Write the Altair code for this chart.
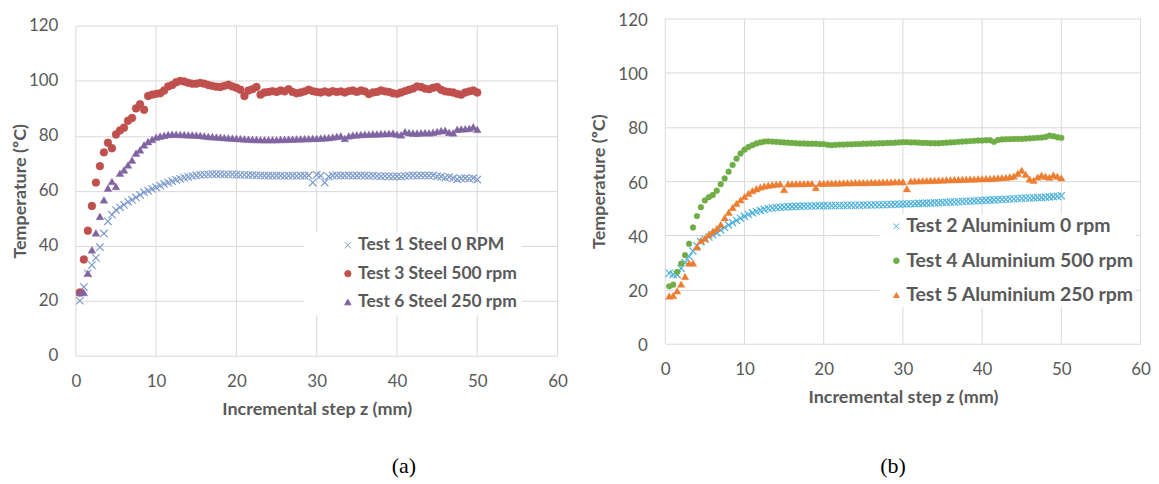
import altair as alt
import pandas as pd

# ---------------- data ----------------
STEP_Z = [
    0.5, 1.0, 1.5, 2.0, 2.5, 3.0, 3.5, 4.0, 4.5, 5.0,
    5.5, 6.0, 6.5, 7.0, 7.5, 8.0, 8.5, 9.0, 9.5, 10.0,
    10.5, 11.0, 11.5, 12.0, 12.5, 13.0, 13.5, 14.0, 14.5, 15.0,
    15.5, 16.0, 16.5, 17.0, 17.5, 18.0, 18.5, 19.0, 19.5, 20.0,
    20.5, 21.0, 21.5, 22.0, 22.5, 23.0, 23.5, 24.0, 24.5, 25.0,
    25.5, 26.0, 26.5, 27.0, 27.5, 28.0, 28.5, 29.0, 29.5, 30.0,
    30.5, 31.0, 31.5, 32.0, 32.5, 33.0, 33.5, 34.0, 34.5, 35.0,
    35.5, 36.0, 36.5, 37.0, 37.5, 38.0, 38.5, 39.0, 39.5, 40.0,
    40.5, 41.0, 41.5, 42.0, 42.5, 43.0, 43.5, 44.0, 44.5, 45.0,
    45.5, 46.0, 46.5, 47.0, 47.5, 48.0, 48.5, 49.0, 49.5, 50.0,
]

TEST1_STEEL_0 = [
    20, 25, 30, 33, 35.6, 39.5, 44.5, 48.9, 51.3, 53,
    54, 54.9, 56, 56.7, 57.6, 58.5, 59.5, 60, 60.7, 61.3,
    61.9, 62.5, 63, 63.5, 64, 64.4, 64.8, 65.1, 65.4, 65.6,
    65.8, 65.9, 66, 66.1, 66.1, 66.1, 66, 66, 66, 65.9,
    65.8, 65.8, 65.7, 65.7, 65.6, 65.6, 65.5, 65.5, 65.5, 65.5,
    65.5, 65.4, 65.5, 65.5, 65.4, 65.5, 65.5, 65.6, 63, 65.8,
    65.5, 63, 65.2, 65.5, 65.6, 65.5, 65.5, 65.6, 65.5, 65.5,
    65.6, 65.5, 65.4, 65.5, 65.4, 65.3, 65.4, 65.3, 65.2, 65.3,
    65.2, 65.4, 65.5, 65.6, 65.5, 65.6, 65.6, 65.5, 65.6, 65.3,
    65.2, 64.8, 65, 64.6, 64.2, 64.5, 64.6, 64.4, 64.6, 64.1,
]
TEST3_STEEL_500 = [
    23, 35, 45.5, 54.5, 63, 69, 74, 77.5, 75.5, 80.5,
    82, 83, 85.5, 86.5, 90, 91.5, 89.5, 94.5, 95, 95.3,
    95.5, 96.5, 98, 98.5, 99.5, 100, 99.8, 99.3, 99, 99,
    99.3, 99, 98.5, 98.2, 97.9, 97.8, 98.2, 98.6, 98, 97.5,
    96.8, 94.5, 96.5, 97, 97.8, 95, 95.8, 96, 96.3, 96,
    96.5, 96.2, 97, 96, 95.5, 95.8, 96.2, 96.8, 96.3, 96,
    95.8, 96.2, 95.8, 96.3, 96, 96.2, 95.8, 96.3, 96.5, 96,
    96.5, 96.2, 95.2, 95.8, 96, 96.5, 96.2, 96, 95.5, 95.3,
    95.8, 96.3, 96.8, 97.2, 98, 97.8, 97.2, 97, 97.5, 97.8,
    96.8, 96.2, 96, 95.8, 95.3, 95, 95.8, 96.2, 96.5, 95.8,
]
TEST6_STEEL_250 = [
    23, 23, 30, 38.5, 44.7, 50.7, 56.7, 61, 63.4, 61.6,
    66.4, 67.6, 69.4, 71.2, 73.7, 74.9, 76.7, 77.9, 78.7, 79.5,
    79.9, 80.2, 80.5, 80.6, 80.6, 80.5, 80.5, 80.4, 80.4, 80.3,
    80.2, 80.0, 79.8, 79.7, 79.6, 79.5, 79.4, 79.3, 79.2, 79.1,
    79.0, 78.9, 78.8, 78.7, 78.7, 78.6, 78.6, 78.6, 78.6, 78.6,
    78.7, 78.7, 78.8, 78.8, 78.9, 78.9, 79.0, 79.0, 79.1, 79.1,
    79.2, 79.3, 79.4, 79.6, 79.8, 80.0, 79.1, 80.0, 80.3, 80.4,
    80.5, 80.6, 80.6, 80.7, 80.7, 80.8, 80.8, 80.9, 81.0, 80.6,
    80.4, 81.5, 81.2, 81.0, 81.0, 81.1, 81.2, 81.1, 81.3, 81.6,
    81.9, 82.0, 81.3, 81.1, 82.4, 82.5, 82.6, 82.7, 83.3, 82.4,
]

TEST2_AL_0 = [
    26, 25.6, 25.5, 27.8, 30, 32.2, 34.2, 36.2, 37.6, 38.6,
    39.4, 40.2, 41, 42, 42.9, 43.8, 44.7, 45.5, 46.3, 47,
    47.7, 48.3, 48.8, 49.2, 49.6, 49.9, 50.1, 50.3, 50.4, 50.5,
    50.6, 50.6, 50.7, 50.7, 50.8, 50.8, 50.8, 50.9, 50.9, 50.9,
    50.9, 51.0, 51.0, 51.0, 51.0, 51.1, 51.1, 51.1, 51.1, 51.2,
    51.2, 51.2, 51.3, 51.3, 51.3, 51.4, 51.4, 51.5, 51.5, 51.6,
    51.6, 51.7, 51.7, 51.8, 51.8, 51.9, 51.9, 52.0, 52.0, 52.1,
    52.2, 52.3, 52.3, 52.4, 52.5, 52.6, 52.6, 52.7, 52.8, 52.9,
    53.0, 53.0, 53.1, 53.2, 53.2, 53.3, 53.4, 53.5, 53.6, 53.7,
    53.8, 53.8, 53.9, 54.0, 54.0, 54.1, 54.2, 54.3, 54.4, 54.6,
]
TEST4_AL_500 = [
    21.2, 21.8, 26.5, 29.6, 32.7, 36.9, 42.9, 47.1, 50.4, 52.9,
    54.1, 54.9, 56.5, 58.9, 61, 63.5, 66, 68.3, 70.2, 71.6,
    72.6, 73.3, 73.9, 74.3, 74.6, 74.7, 74.6, 74.5, 74.4, 74.3,
    74.2, 74.1, 74.0, 73.9, 73.9, 73.8, 73.8, 73.8, 73.7, 73.7,
    73.4, 73.3, 73.4, 73.5, 73.5, 73.6, 73.6, 73.7, 73.7, 73.8,
    73.8, 73.9, 73.9, 74.0, 74.0, 74.1, 74.1, 74.2, 74.3, 74.4,
    74.4, 74.3, 74.3, 74.2, 74.1, 74.1, 74.0, 74.0, 74.0, 74.1,
    74.2, 74.3, 74.4, 74.5, 74.6, 74.7, 74.8, 74.9, 75.0, 75.0,
    75.1, 75.1, 74.5, 75.2, 75.4, 75.5, 75.5, 75.6, 75.6, 75.6,
    75.7, 75.8, 75.9, 76.0, 76.1, 76.3, 76.8, 76.6, 76.2, 76.0,
]
TEST5_AL_250 = [
    17.6, 17.8, 19.5, 22, 24.8, 29.8, 29.8, 35.7, 38.1, 38.9,
    40.3, 41.5, 42.5, 44, 46.5, 48.5, 50.3, 51.8, 53.1, 54.3,
    55.5, 56.5, 57.2, 57.8, 58.2, 58.5, 58.7, 58.9, 59.0, 56.9,
    59.0, 59.0, 59.1, 59.1, 59.1, 59.2, 59.2, 57.6, 59.2, 59.2,
    59.3, 59.3, 59.3, 59.3, 59.4, 59.4, 59.4, 59.5, 59.5, 59.5,
    59.5, 59.6, 59.6, 59.6, 59.7, 59.7, 59.7, 59.8, 59.8, 59.8,
    57.2, 60.0, 60.1, 60.1, 60.2, 60.2, 60.3, 60.3, 60.4, 60.4,
    60.5, 60.5, 60.6, 60.6, 60.7, 60.7, 60.8, 60.8, 60.9, 60.9,
    61.0, 61.0, 61.1, 61.2, 61.3, 61.4, 61.6, 61.9, 62.8, 64.0,
    62.5, 60.8, 60.3, 61.5, 62.2, 61.8, 61.4, 62.3, 61.8, 61.2,
]

A_NAMES = ["Test 1 Steel 0 RPM", "Test 3 Steel 500 rpm", "Test 6 Steel 250 rpm"]
B_NAMES = ["Test 2 Aluminium 0 rpm", "Test 4 Aluminium 500 rpm", "Test 5 Aluminium 250 rpm"]
A_COLORS = ["#7d9bcc", "#c0504d", "#8064a2"]
B_COLORS = ["#4bb0dc", "#70ad47", "#ed7d31"]

X_TICKS = [0, 10, 20, 30, 40, 50, 60]
Y_TICKS = [0, 20, 40, 60, 80, 100, 120]

X_TITLE = "Incremental step z (mm)"
Y_TITLE = "Temperature (ºC)"

# ---------------- styling ----------------
FONT = "Lato"
TXT = "#595959"
GRID = "#d9d9d9"
X_PATH = "M-1,-1L1,1M-1,1L1,-1"
SHAPES = [X_PATH, "circle", "triangle-up"]


def panel(names, colors, series, sizes, strokes, width, height, yrange,
          ytitle_x, ytitle_y, ylabel_offset, legend_kw, caption, cap_dx,
          cap_offset):
    frames = []
    for name, vals in zip(names, series):
        frames.append(pd.DataFrame({"z": STEP_Z, "t": vals, "series": name}))

    grid_df = pd.DataFrame({"gx": X_TICKS, "y0": [0] * len(X_TICKS),
                            "y1": [120] * len(X_TICKS)})

    xscale = alt.Scale(domain=[0, 60], nice=False, zero=False)
    yscale = alt.Scale(domain=[0, 120], range=yrange, nice=False, zero=False)
    cscale = alt.Scale(domain=names, range=colors)
    sscale = alt.Scale(domain=names, range=SHAPES)

    xaxis = alt.Axis(
        values=X_TICKS, grid=False, domain=False, ticks=False, tickSize=0,
        labelPadding=26, labelBaseline="middle", labelFlush=False,
        labelFont=FONT, labelFontSize=17, labelColor=TXT,
        title=X_TITLE, titleFont=FONT, titleFontSize=18, titleFontWeight="bold",
        titleColor=TXT, titleY=54, titleBaseline="middle",
    )
    yaxis = alt.Axis(
        values=Y_TICKS, grid=True, gridColor=GRID, gridWidth=1, domain=False,
        ticks=False, tickSize=0, labelPadding=18, labelFlush=False,
        labelOffset=ylabel_offset,
        labelFont=FONT, labelFontSize=17, labelColor=TXT,
        title=Y_TITLE, titleFont=FONT, titleFontSize=18, titleFontWeight="bold",
        titleColor=TXT, titleAngle=270, titleX=ytitle_x,
        titleY=ytitle_y, titleAlign="center", titleBaseline="middle",
    )
    legend = alt.Legend(
        title=None, orient="none", fillColor="white", labelFont=FONT,
        labelFontWeight="bold", labelColor=TXT, symbolStrokeWidth=1,
        labelLimit=400, **legend_kw,
    )

    vgrid = alt.Chart(grid_df).mark_rule(color=GRID, strokeWidth=1).encode(
        x=alt.X("gx:Q", scale=xscale, axis=xaxis),
        y=alt.Y("y0:Q", scale=yscale, axis=yaxis),
        y2="y1:Q",
    )

    layers = [vgrid]
    for df, size, sw in zip(frames, sizes, strokes):
        layers.append(
            alt.Chart(df).mark_point(filled=True, size=size, opacity=1,
                                     strokeWidth=sw).encode(
                x=alt.X("z:Q", scale=xscale, axis=xaxis),
                y=alt.Y("t:Q", scale=yscale, axis=yaxis),
                fill=alt.Fill("series:N", scale=cscale, legend=legend),
                stroke=alt.Stroke("series:N", scale=cscale, legend=legend),
                shape=alt.Shape("series:N", scale=sscale, legend=legend),
            )
        )
    return alt.layer(*layers).properties(
        width=width, height=height,
        title=alt.TitleParams(caption, orient="bottom", anchor="middle",
                              frame="group", font="Liberation Serif",
                              fontSize=22, fontWeight="normal", color="black",
                              dx=cap_dx, offset=cap_offset),
    )


# group origin sits at page y = 3 (top padding -5)
panel_a = panel(
    A_NAMES, A_COLORS, [TEST1_STEEL_0, TEST3_STEEL_500, TEST6_STEEL_250],
    sizes=[55, 62, 60], strokes=[1.2, 0.4, 0.4],
    width=483, height=353, yrange=[353, 22.4],
    ytitle_x=-55, ytitle_y=187.7, ylabel_offset=0,
    legend_kw=dict(legendX=229, legendY=229.5, padding=4,
                   symbolOffset=31, labelOffset=1.5, rowPadding=9.5,
                   labelFontSize=17.5, symbolSize=40),
    caption="(a)", cap_dx=87.5, cap_offset=38,
)
panel_b = panel(
    B_NAMES, B_COLORS, [TEST2_AL_0, TEST4_AL_500, TEST5_AL_250],
    sizes=[52, 34, 55], strokes=[1.2, 0.4, 0.4],
    width=476.5, height=341, yrange=[341, 15],
    ytitle_x=-65.5, ytitle_y=178, ylabel_offset=2,
    legend_kw=dict(legendX=215, legendY=211.5, padding=2,
                   symbolOffset=5, labelOffset=0, rowPadding=13.5,
                   labelFontSize=19.5, symbolSize=32),
    caption="(b)", cap_dx=-10, cap_offset=50,
)

chart = alt.hconcat(panel_a, panel_b, spacing=23).resolve_scale(
    fill="independent", stroke="independent", shape="independent",
).resolve_legend(
    fill="independent", stroke="independent", shape="independent",
).properties(
    padding={"left": 4, "top": -5, "right": 0, "bottom": 0},
    background="white",
).configure_view(stroke=None)

chart.save("out.html", embed_options={"renderer": "svg", "actions": False})
